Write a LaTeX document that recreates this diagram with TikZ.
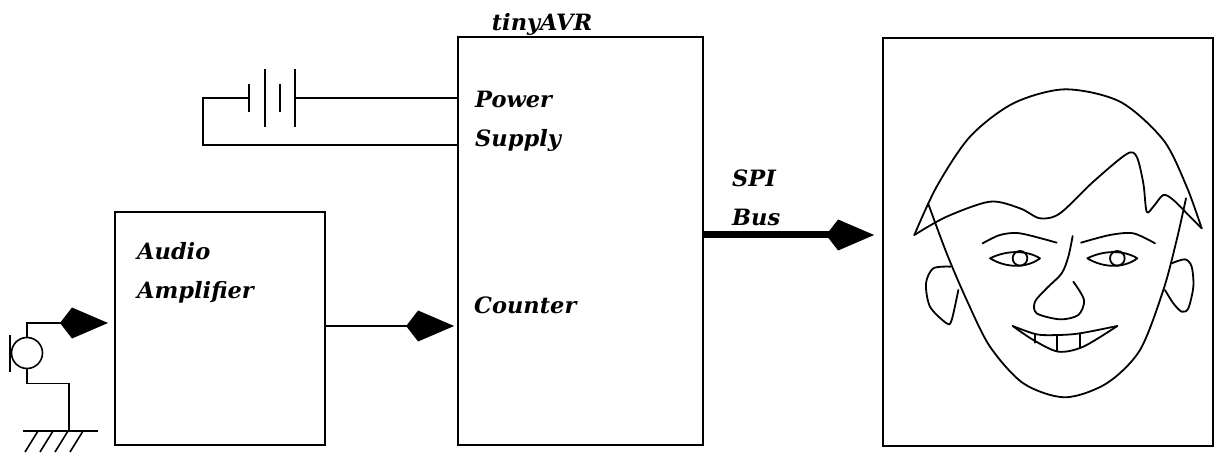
\documentclass[tikz,border=0pt]{standalone}
\usepackage{fontspec}
\setmainfont{DejaVu Serif}
\usepackage{tikz}
\usetikzlibrary{arrows.meta,positioning}

\begin{document}
\begin{tikzpicture}[
        x=1pt, y=-1pt,
        block/.style = {rectangle, draw=black, line width=1.8pt, inner sep=0pt},
        lbl/.style = {font=\fontsize{22.5}{39}\selectfont\bfseries\itshape, inner sep=0pt, align=left},
        wire/.style = {line width=1.6pt},
        kite/.style = {wire, -{Kite[length=48pt, width=31pt, inset=12pt]}},
        face/.style = {line width=1.8pt, line join=round, line cap=round}
    ]
    \useasboundingbox (0,0) rectangle (1216,457);

    %nodes
    \node [block, minimum width=210, minimum height=233] (amp) at (220,328.5) {};
    \node [block, minimum width=245, minimum height=408] (avr) at (580.5,241) {};
    \node [block, minimum width=330, minimum height=408] (disp) at (1048,242) {};
    \node [lbl, anchor=base] (avrname) at (542,31) {tinyAVR};
    \node [lbl, anchor=west] (pwr) at (475,121) {Power\\Supply};
    \node [lbl, anchor=west] (cnt) at (474,305) {Counter};
    \node [lbl, anchor=west] (ampname) at (137,273) {Audio\\Amplifier};
    \node [lbl, anchor=west] (spi) at (732,198) {SPI\\Bus};
    \node [circle, draw, wire, minimum size=31, inner sep=0pt] (mic) at (27,353) {};
    \coordinate (jack) at (115,323);
    \coordinate (gnd) at (69,431);
    \coordinate (bat) at (295,98);

    % battery
    \draw[wire] (bat) -- (avr.west |- bat);
    \draw[wire] (249,98) -- (203,98) |- (avr.west |- 0,145);
    \foreach \x/\h in {249/14, 265/29, 280/14, 295/29}
        \draw[wire] (\x,98-\h) -- (\x,98+\h);

    % microphone and ground
    \draw[wire] (10,335) -- (10,372);
    \draw[kite, shorten >=7pt] (mic.north) |- (jack);
    \draw[wire] (mic.south) -- ++(0,14) -| (gnd);
    \draw[wire] (23,431) -- (98,431);
    \foreach \x in {38,53,68,83}
        \draw[wire] (\x,431) -- ++(-13,21);

    % links
    \draw[kite, shorten >=3pt] (amp.east |- 0,326) -- (avr.west |- 0,326);
    \draw[kite, line width=7pt, shorten >=8pt] (avr.east |- 0,235) -- (disp.west |- 0,235);

    % face
    \begin{scope}[shift={(880,0)}, scale=1/3, face]
        \draw plot[smooth] coordinates {(103,705) (170,560) (270,410) (400,310) (555,268) (720,305) (850,420) (920,560) (965,685)};
        \draw plot[smooth] coordinates {(103,705) (200,650) (330,605) (420,625) (480,655) (540,640) (640,545) (740,462) (770,470) (790,550) (800,635) (820,620) (850,585) (880,600) (930,650) (965,685)};
        \draw plot[smooth] coordinates {(145,612) (200,760) (260,900) (330,1040) (430,1150) (555,1192) (680,1150) (780,1050) (850,870) (890,720) (918,595)};
        \draw plot[smooth] coordinates {(212,800) (160,805) (138,850) (150,920) (200,970) (215,960) (235,870)};
        \draw plot[smooth] coordinates {(875,790) (915,778) (935,800) (940,860) (925,925) (905,935) (880,910) (855,870)};
        \draw plot[smooth] coordinates {(308,730) (360,705) (420,700) (530,728)};
        \draw plot[smooth] coordinates {(603,728) (690,705) (760,700) (825,730)};
        \draw plot[smooth] coordinates {(578,708) (565,770) (545,820) (500,865) (465,905) (470,940) (540,958) (595,945) (612,900) (580,845)};
        \foreach \c in {420,712} {
            \draw (\c-90,775) .. controls (\c-40,750) and (\c+20,750) .. (\c+60,775)
                              .. controls (\c+20,805) and (\c-40,805) .. cycle;
            \draw (\c,775) circle[radius=22];
        }
        \draw plot[smooth] coordinates {(398,978) (470,1003) (535,1005) (600,1000) (712,978)};
        \draw plot[smooth] coordinates {(398,978) (460,1020) (535,1055) (610,1040) (712,978)};
        \draw (465,1002) -- (465,1028) (532,1005) -- (532,1052) (600,1000) -- (600,1042);
    \end{scope}
\end{tikzpicture}
\end{document}
